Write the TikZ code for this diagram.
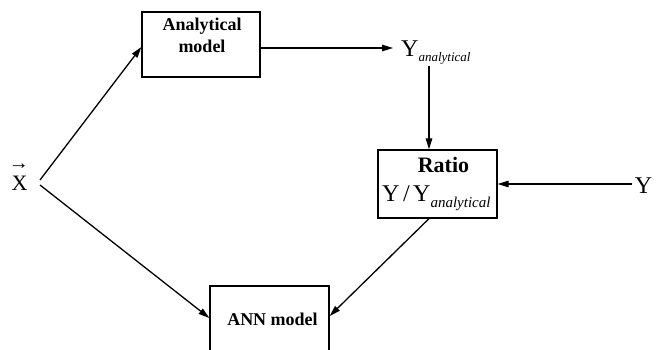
\documentclass[tikz,border=0pt]{standalone}
\usepackage{fontspec}
\setmainfont{Liberation Serif}
\usetikzlibrary{arrows.meta,calc}
\tikzset{
  boxnode/.style={draw, line width=1.3pt, inner sep=0pt},
  conn/.style={line width=1.3pt, -{Triangle[length=11pt,width=6.5pt]}},
  txt/.style={inner sep=0pt, anchor=base},
}
\begin{document}
\begin{tikzpicture}[x=1pt,y=-1pt]
\clip (0,0) rectangle (658,350);
\useasboundingbox (0,0) rectangle (658,350);
% boxes
\node[boxnode, minimum width=118pt, minimum height=65pt] (anal) at (201,44.5) {};
\node[boxnode, minimum width=119pt, minimum height=68pt] (ratio) at (437.5,184) {};
\node[boxnode, minimum width=119pt, minimum height=66pt] (ann) at (269.5,319) {};
% texts
\node[txt] (analtxt) at (202,31) {\fontsize{18}{18}\selectfont\bfseries Analytical};
\node[txt] (modeltxt) at (202,53) {\fontsize{18}{18}\selectfont\bfseries model};
\node[txt] (ratiotxt) at (443.5,172) {\fontsize{22}{22}\selectfont\bfseries Ratio};
\node[txt, anchor=base west] (ratioexpr) at (382,201) {\fontsize{24}{24}\selectfont Y\hspace{3.5pt}/\hspace{3.5pt}Y\raisebox{-6pt}{\fontsize{15}{15}\selectfont\itshape analytical}};
\node[txt] (anntxt) at (272.5,325) {\fontsize{18}{18}\selectfont\bfseries ANN model};
\node[txt] (X) at (19.5,190) {\fontsize{22}{22}\selectfont X};
\node[txt] (Xarrow) at (19,169) {\fontsize{20}{20}\selectfont →};
\node[txt, anchor=base west] (Yan) at (401,57) {\fontsize{24}{24}\selectfont Y\raisebox{-5pt}{\fontsize{13}{13}\selectfont\itshape analytical}};
\node[txt] (Yr) at (643.5,193) {\fontsize{24}{24}\selectfont Y};
% connector end coordinates
\coordinate (xs1) at (40,180);
\coordinate (xs2) at (40,185);
\coordinate (yanb) at (429,66);
\coordinate (yanl) at (393,48);
\coordinate (yre) at (632,184);
% connectors
\draw[conn] (xs1) -- (anal.west |- 0,47);
\draw[conn] (anal.east |- 0,48) -- (yanl);
\draw[conn] (yanb) -- (ratio.north -| 429,0);
\draw[conn] (yre) -- (ratio.east);
\draw[conn] (ratio.south -| 429,0) -- (ann.east |- 0,316);
\draw[conn] (xs2) -- (ann.west |- 0,318);
\end{tikzpicture}
\end{document}
